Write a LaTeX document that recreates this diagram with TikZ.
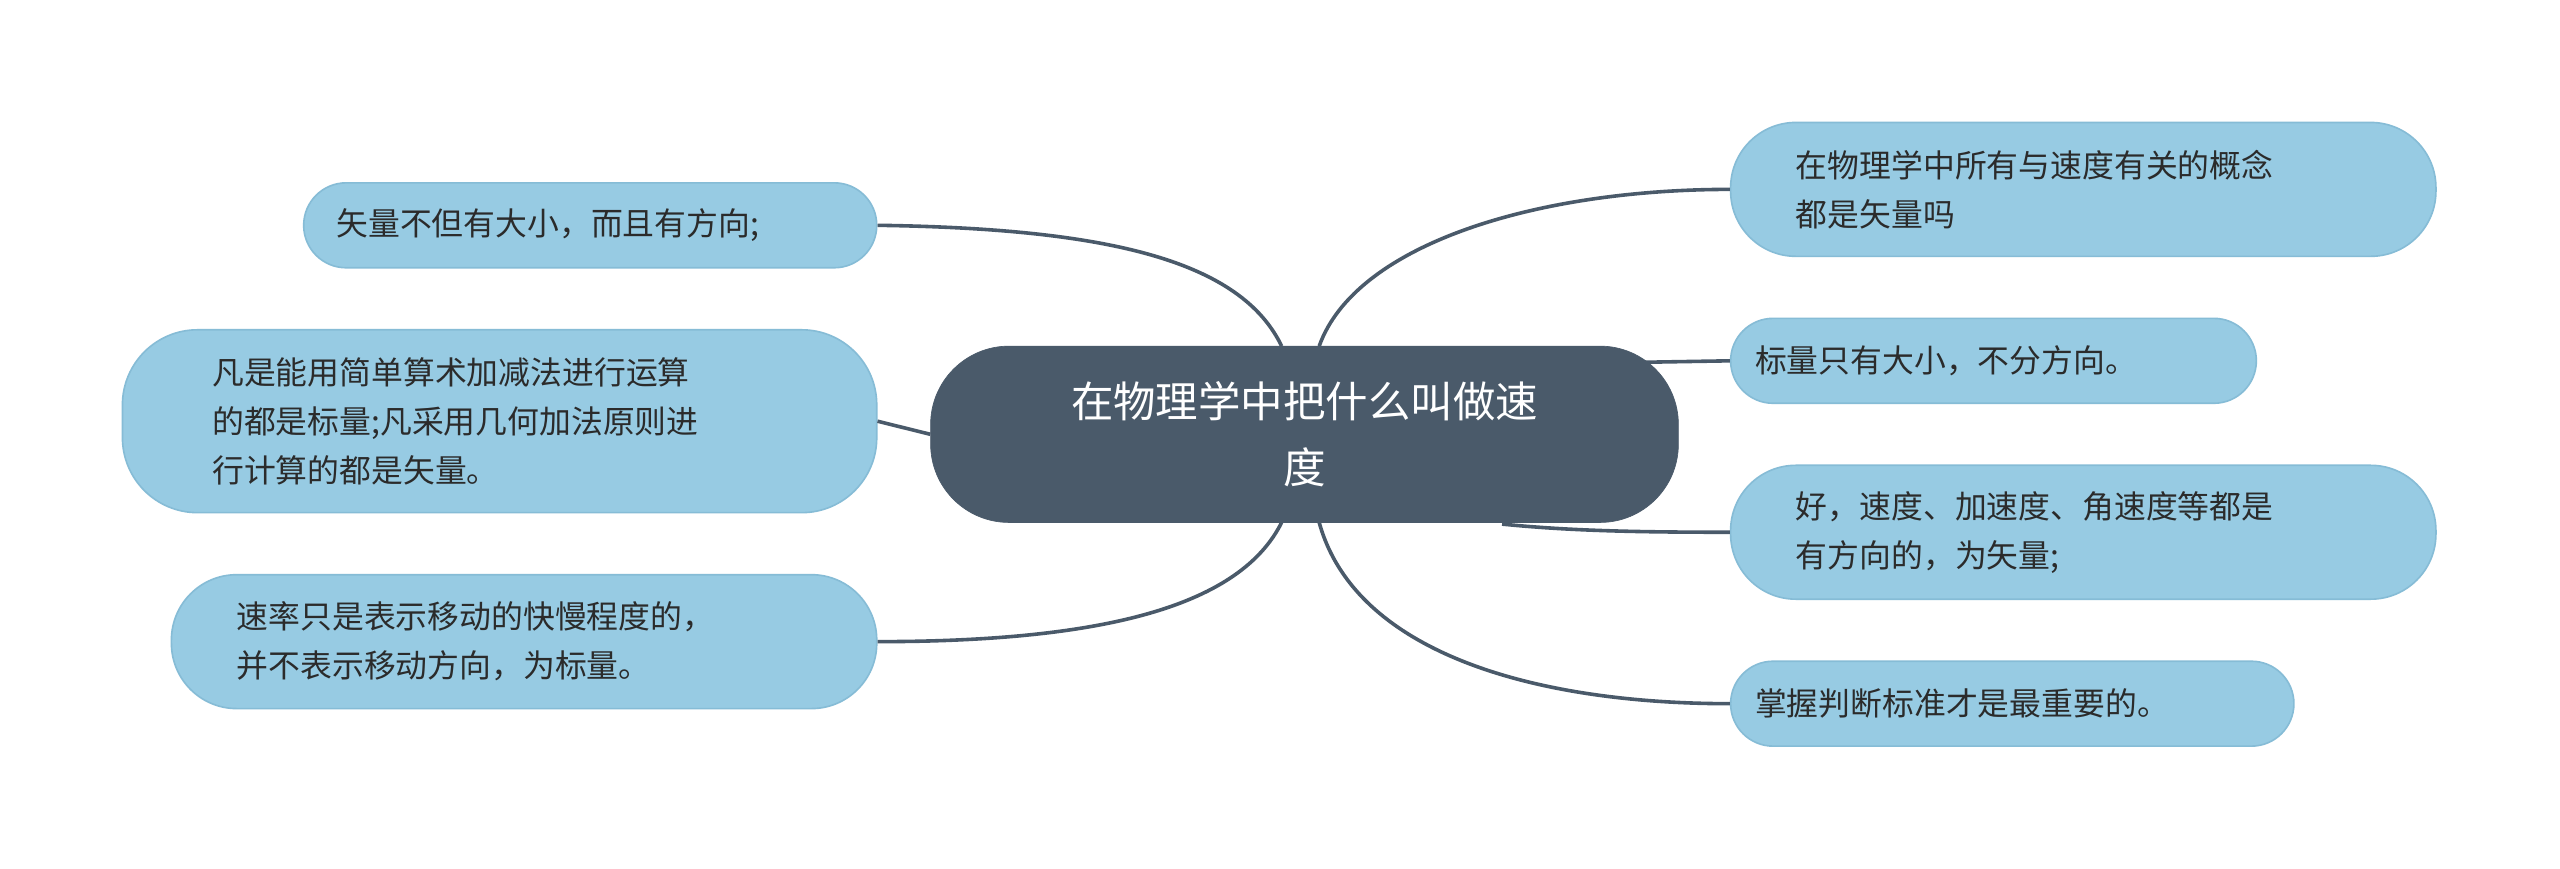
\documentclass[tikz,border=0pt]{standalone}
\usepackage{fontspec}
\setmainfont{Noto Sans CJK SC}
\begin{document}
\begin{tikzpicture}[x=1pt,y=-1pt,
 leaf/.style={draw=leafb,fill=leaf,line width=1pt,rounded corners=26pt,inner ysep=0pt,minimum height=52pt,align=left,font=\fontsize{19.5}{30}\selectfont,text=txt},
 conn/.style={draw=hub,line width=2.2pt}]
\definecolor{leaf}{HTML}{97CBE3}
\definecolor{leafb}{HTML}{86BCD6}
\definecolor{hub}{HTML}{4A5A6A}
\definecolor{txt}{HTML}{2B2B2B}
\useasboundingbox (0,0) rectangle (1568,532);
\fill[white] (0,0) rectangle (1568,532);
\node[draw=hub,fill=hub,rounded corners=48pt,minimum width=458pt,minimum height=108pt,text width=360pt,align=center,text=white,font=\fontsize{26}{40}\selectfont,inner sep=0pt] (c) at (799,266) {在物理学中把什么叫做速\\度};
\node[leaf,minimum width=351pt,text width=311pt,inner xsep=20pt] (l1) at (361.5,138) {矢量不但有大小，而且有方向;};
\node[leaf,minimum width=462pt,minimum height=112pt,rounded corners=46pt,text width=352pt,inner xsep=55pt] (l2) at (306,258) {凡是能用简单算术加减法进行运算\\的都是标量;凡采用几何加法原则进\\行计算的都是矢量。};
\node[leaf,minimum width=432pt,minimum height=82pt,rounded corners=40pt,text width=352pt,inner xsep=40pt] (l3) at (321,393) {速率只是表示移动的快慢程度的，\\并不表示移动方向，为标量。};
\node[leaf,minimum width=432pt,minimum height=82pt,rounded corners=40pt,text width=352pt,inner xsep=40pt] (r1) at (1276,116) {在物理学中所有与速度有关的概念\\都是矢量吗};
\node[leaf,minimum width=322pt,text width=292pt,inner xsep=15pt] (r2) at (1221,221) {标量只有大小，不分方向。};
\node[leaf,minimum width=432pt,minimum height=82pt,rounded corners=40pt,text width=352pt,inner xsep=40pt] (r3) at (1276,326) {好，速度、加速度、角速度等都是\\有方向的，为矢量;};
\node[leaf,minimum width=345pt,text width=315pt,inner xsep=15pt] (r4) at (1232.5,431) {掌握判断标准才是最重要的。};
\coordinate (ct1) at (785,212);
\coordinate (ct2) at (808,212);
\coordinate (cb1) at (785,320);
\coordinate (cb2) at (808,320);
\coordinate (cr2) at (1000,222);
\coordinate (cr3) at (920,321);
\begin{scope}[on background layer/.style={}]
\draw[conn] (ct1) .. controls (760,160) and (680,140) .. (l1.east);
\draw[conn] (c.west) -- (l2.east);
\draw[conn] (cb1) .. controls (760,370) and (680,393) .. (l3.east);
\draw[conn] (ct2) .. controls (830,150) and (940,116) .. (r1.west);
\draw[conn] (cr2) -- (r2.west);
\draw[conn] (cr3) .. controls (960,325) and (1000,326) .. (r3.west);
\draw[conn] (cb2) .. controls (830,400) and (940,431) .. (r4.west);
\end{scope}
\end{tikzpicture}
\end{document}
